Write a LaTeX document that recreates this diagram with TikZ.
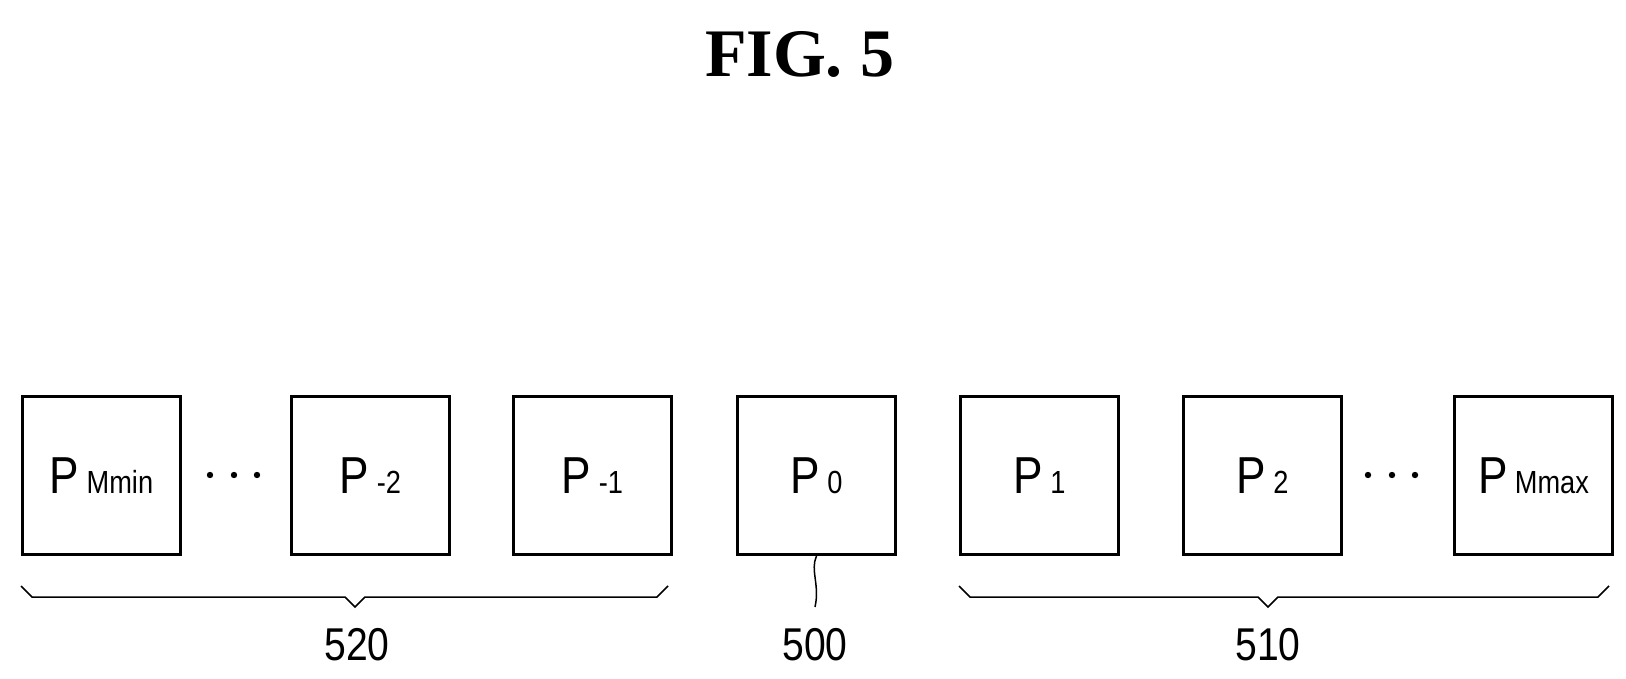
\documentclass[tikz,border=0pt]{standalone}
\usepackage{fontspec}
\setmainfont{Liberation Sans}
\newfontfamily\titlefont{Liberation Serif}
\begin{document}
\begin{tikzpicture}[x=1pt,y=-1pt,
  box/.style={draw,line width=3pt,minimum width=158pt,minimum height=158pt,anchor=north west,inner sep=0pt,font=\fontsize{52}{52}\selectfont},
  brc/.style={line width=1.5pt},
  lab/.style={font=\fontsize{46}{46}\selectfont}]
\useasboundingbox (0,0) rectangle (1626,679);
\node[font=\titlefont\bfseries\fontsize{68}{68}\selectfont] (t) at (800,54) {FIG.\hspace{18pt}5};
\node[box] (a) at (21,395) {\scalebox{0.85}[1]{P\,{\fontsize{32}{32}\selectfont Mmin}}};
\node[box] (b) at (290,395) {\scalebox{0.85}[1]{P\,{\fontsize{32}{32}\selectfont -2}}};
\node[box] (c) at (512,395) {\scalebox{0.85}[1]{P\,{\fontsize{32}{32}\selectfont -1}}};
\node[box] (d) at (736,395) {\scalebox{0.85}[1]{P\,{\fontsize{32}{32}\selectfont 0}}};
\node[box] (e) at (959,395) {\scalebox{0.85}[1]{P\,{\fontsize{32}{32}\selectfont 1}}};
\node[box] (f) at (1182,395) {\scalebox{0.85}[1]{P\,{\fontsize{32}{32}\selectfont 2}}};
\node[box] (g) at (1453,395) {\scalebox{0.85}[1]{P\,{\fontsize{32}{32}\selectfont Mmax}}};
\foreach \x in {210,234,257,1368,1392,1415}{\fill (\x,475) circle (3.2pt);}
\draw[brc] (21,586) -- (32,597) -- (345,597) -- (355,607) -- (365,597) -- (657,597) -- (668,586);
\draw[brc] (959,586) -- (970,597) -- (1258,597) -- (1268,607) -- (1278,597) -- (1598,597) -- (1609,586);
\coordinate (tip) at (815,607);
\draw[line width=1.5pt] (d.south) .. controls (810,570) and (820,585) .. (tip);
\node[lab] (l1) at (357,645) {\scalebox{0.85}[1]{520}};
\node[lab] (l2) at (815,645) {\scalebox{0.85}[1]{500}};
\node[lab] (l3) at (1268,645) {\scalebox{0.85}[1]{510}};
\end{tikzpicture}
\end{document}
